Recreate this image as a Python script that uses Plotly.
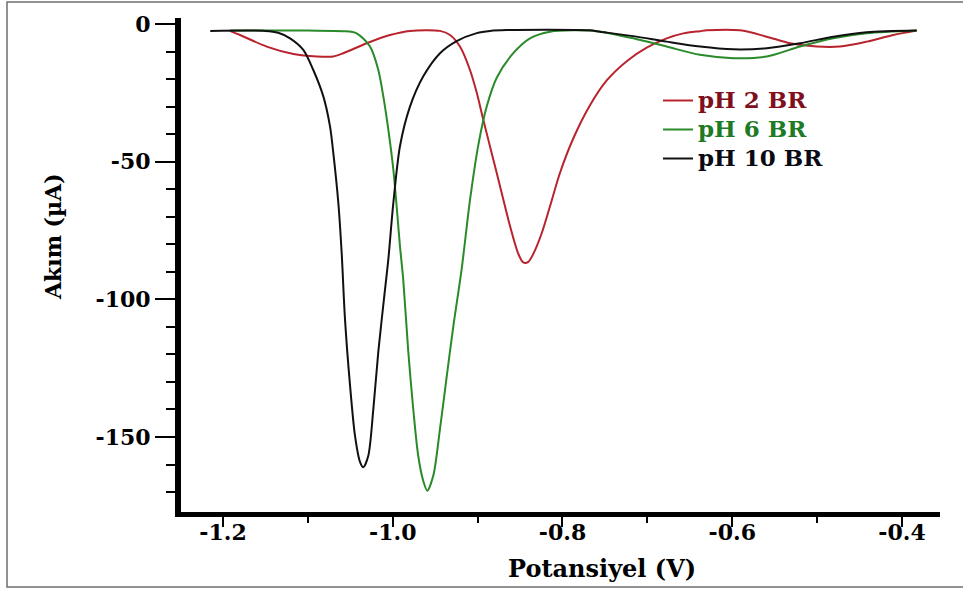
import plotly.graph_objects as go

# Differential pulse voltammograms recorded in Britton-Robinson buffer at three pH values
pot_ph2 = [-1.192, -1.180, -1.1485, -1.117, -1.0896, -1.070, -1.0582, -1.0307, -1.0032,
           -0.9797, -0.9443, -0.9325, -0.9208, -0.909, -0.901, -0.8933, -0.8834, -0.8736,
           -0.8618, -0.852, -0.8462, -0.8403, -0.8344, -0.8245, -0.8147, -0.803, -0.7872,
           -0.7676, -0.7479, -0.7243, -0.7008, -0.6773, -0.6576, -0.638, -0.6301, -0.5909,
           -0.5594, -0.5319, -0.5005, -0.4731, -0.4416, -0.4102, -0.3827]
cur_ph2 = [-2.5, -4.0, -8.2, -10.9, -11.8, -11.8, -10.6, -7.0, -4.0,
           -2.5, -2.5, -4.0, -8.2, -16.7, -25.0, -34.8, -46.9, -58.9,
           -73.4, -83.5, -86.6, -86.4, -83.5, -76.0, -66.2, -54.1, -41.5,
           -29.5, -20.5, -13.5, -8.6, -5.2, -3.4, -2.6, -2.3, -2.3,
           -4.6, -7.0, -8.2, -8.2, -6.4, -4.0, -2.4]

pot_ph6 = [-1.192, -1.100, -1.058, -1.0425, -1.0268, -1.017, -1.0111, -1.0052, -0.9993,
           -0.9954, -0.9915, -0.9876, -0.9817, -0.9758, -0.9699, -0.964, -0.9593, -0.9522,
           -0.9443, -0.9364, -0.9286, -0.9188, -0.909, -0.8992, -0.8893, -0.8775, -0.858,
           -0.8383, -0.8147, -0.7872, -0.7597, -0.7166, -0.6773, -0.638, -0.5987, -0.5594,
           -0.5202, -0.4809, -0.4416, -0.3827]
cur_ph6 = [-2.4, -2.4, -2.6, -3.4, -8.2, -16.7, -26.3, -38.4, -52.9,
           -66.2, -80.7, -93.0, -119.0, -140.0, -157.0, -166.0, -169.5, -164.0,
           -147.0, -128.0, -109.7, -89.0, -64.0, -44.0, -30.0, -19.5, -10.6,
           -5.2, -2.8, -2.3, -2.6, -5.2, -8.2, -11.2, -12.4, -11.8,
           -8.2, -5.2, -3.4, -2.4]

pot_ph10 = [-1.215, -1.150, -1.135, -1.121, -1.1054, -1.0936, -1.0818, -1.0739, -1.070,
            -1.0641, -1.0602, -1.0563, -1.0504, -1.0445, -1.0386, -1.0347, -1.0288, -1.0229,
            -1.017, -1.0091, -1.0052, -0.9993, -0.9915, -0.9797, -0.964, -0.9443, -0.9247,
            -0.901, -0.8854, -0.866, -0.768, -0.7558, -0.7166, -0.6773, -0.638, -0.5987,
            -0.5594, -0.5202, -0.4809, -0.4416, -0.3827]
cur_ph10 = [-2.5, -2.5, -3.2, -5.2, -9.4, -16.7, -26.3, -37.2, -46.9,
            -65.0, -83.0, -107.0, -131.0, -149.5, -159.0, -161.0, -156.8, -140.0,
            -119.0, -96.4, -85.5, -65.0, -44.4, -30.0, -19.0, -10.6, -6.2,
            -3.3, -2.5, -2.2, -2.3, -2.8, -4.4, -6.4, -8.2, -9.2,
            -8.8, -7.0, -4.6, -3.0, -2.4]

x_tickvals = [-1.2, -1.0, -0.8, -0.6, -0.4]
x_ticktext = ["-1.2", "-1.0", "-0.8", "-0.6", "-0.4"]
y_tickvals = [0, -50, -100, -150]
y_ticktext = ["0", "-50", "-100", "-150"]

series = [
    ("pH 2 BR", pot_ph2, cur_ph2, "#b8232d", "#7f0f1c"),
    ("pH 6 BR", pot_ph6, cur_ph6, "#2a8a2a", "#1f7a25"),
    ("pH 10 BR", pot_ph10, cur_ph10, "#111111", "#0a0a14"),
]

W, H = 963, 591
ML, MR, MT, MB = 181, 23, 18, 79
PW, PH = W - ML - MR, H - MT - MB

def px(xp):
    return (xp - ML) / PW

def py(yp):
    return (H - MB - yp) / PH

SERIF = "DejaVu Serif"

fig = go.Figure()
for name, xs, ys, line_col, text_col in series:
    fig.add_trace(go.Scatter(
        x=xs, y=ys, mode="lines",
        name=f"<span style='color:{text_col};font-size:23px'>{name}</span>",
        line=dict(color=line_col, width=2, shape="spline", smoothing=0.8),
    ))

fig.update_layout(
    width=W, height=H,
    margin=dict(l=ML, r=MR, t=MT, b=MB, pad=0),
    paper_bgcolor="white", plot_bgcolor="white",
    showlegend=True,
    legend=dict(
        x=px(658), y=py(81), xanchor="left", yanchor="top",
        bgcolor="rgba(0,0,0,0)", borderwidth=0,
        font=dict(family=SERIF, size=20, color="black", weight="bold"),
        tracegroupgap=0,
    ),
    xaxis=dict(
        range=[-1.24948, -0.35522],
        showgrid=False, zeroline=False,
        showline=True, linewidth=5, linecolor="black",
        tickvals=x_tickvals, ticktext=x_ticktext,
        ticks="outside", ticklen=10, tickwidth=2, tickcolor="black",
        ticklabelstandoff=-13,
        tickfont=dict(family=SERIF, size=22, color="black", weight="bold"),
        minor=dict(dtick=0.1, tick0=-1.2, ticks="outside", ticklen=6,
                   tickwidth=2, tickcolor="black", showgrid=False),
    ),
    yaxis=dict(
        range=[-177.24, 2.18],
        showgrid=False, zeroline=False,
        showline=True, linewidth=6, linecolor="black",
        tickvals=y_tickvals, ticktext=y_ticktext,
        ticks="outside", ticklen=20, tickwidth=2, tickcolor="black",
        tickfont=dict(family=SERIF, size=22, color="black", weight="bold"),
        minor=dict(dtick=10, tick0=0, ticks="outside", ticklen=9,
                   tickwidth=2, tickcolor="black", showgrid=False),
    ),
    annotations=[
        dict(text="Potansiyel (V)", xref="paper", yref="paper",
             x=px(602), y=py(568), xanchor="center", yanchor="middle",
             showarrow=False,
             font=dict(family=SERIF, size=24, color="black", weight="bold")),
        dict(text="Akım (µA)", xref="paper", yref="paper",
             x=px(53), y=py(237), xanchor="center", yanchor="middle",
             textangle=-90, showarrow=False,
             font=dict(family=SERIF, size=22, color="black", weight="bold")),
    ],
    shapes=[
        dict(type="rect", xref="paper", yref="paper",
             x0=px(7), x1=px(980), y0=py(587), y1=py(2),
             line=dict(color="#6e6e6e", width=1.5), fillcolor="rgba(0,0,0,0)",
             layer="below"),
    ],
)

fig.write_html("out.html")
